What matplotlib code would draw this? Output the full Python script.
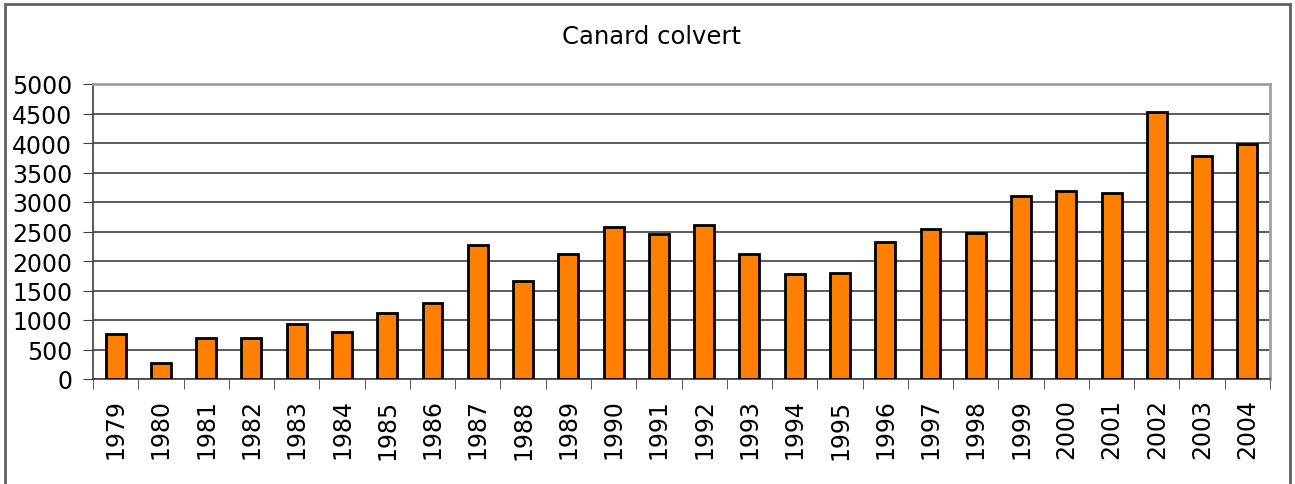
import numpy as np
import matplotlib
matplotlib.use('Agg')
import matplotlib.pyplot as plt
from matplotlib.patches import Rectangle

years = [str(y) for y in range(1979, 2005)]
counts = [765, 265, 700, 700, 930, 795, 1120, 1285, 2270, 1665, 2115, 2575,
          2455, 2615, 2115, 1775, 1805, 2325, 2535, 2480, 3095, 3185, 3155,
          4525, 3780, 3990]
yticks = list(range(0, 5001, 500))

W, H = 1295, 485
fig = plt.figure(figsize=(W/100, H/100), dpi=100)
ax = fig.add_axes([93/W, 1-380/H, (1270-93)/W, (380-85)/H])

x = np.arange(len(years))
ax.bar(x, counts, width=0.44, color='#ff8000', edgecolor='black', lw=2, zorder=3)

ax.set_xlim(-0.5, len(years)-0.5)
ax.set_ylim(0, 5000)
ax.set_yticks(yticks)
ax.set_yticklabels([str(v) for v in yticks], fontsize=17)
ax.yaxis.grid(True, color='#404040', lw=1.2, zorder=0)
ax.set_xticks(x)
ax.set_xticklabels(years, rotation=90, fontsize=17)
ax.set_xticks(np.arange(-0.5, len(years)), minor=True)
ax.tick_params(axis='x', which='major', length=0, pad=14)
ax.tick_params(axis='x', which='minor', length=7, color='#404040')
ax.tick_params(axis='y', length=7, color='#404040', pad=8)

for s in ['top', 'right']:
    ax.spines[s].set_color('#a0a0a0')
    ax.spines[s].set_linewidth(2)
for s in ['left', 'bottom']:
    ax.spines[s].set_color('#404040')
    ax.spines[s].set_linewidth(1.2)

fig.text(652/W, 1-37/H, 'Canard colvert', ha='center', va='center', fontsize=17.5)

fig.patches.append(Rectangle((5/W, -0.1), (1290-5)/W, 1.1-5/H, transform=fig.transFigure,
                             fill=False, edgecolor='#606060', lw=2))

fig.savefig('out.png', dpi=100)
